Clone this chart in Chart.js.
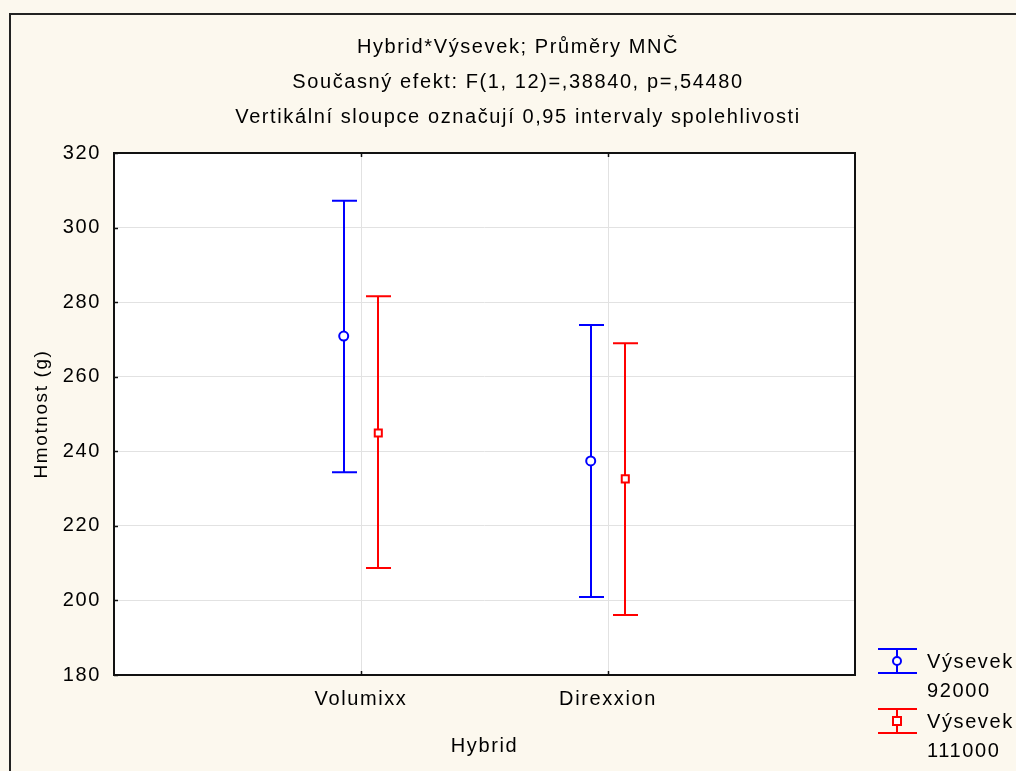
<!DOCTYPE html>
<html>
<head>
<meta charset="utf-8">
<script src="https://cdn.jsdelivr.net/npm/chart.js@4/dist/chart.umd.min.js"></script>
<style>
  html, body { margin: 0; padding: 0; background: #fcf8ee; overflow: hidden; }
  canvas { display: block; }
</style>
</head>
<body>
<canvas id="graph" width="1016" height="771"></canvas>
<script>
const categories = ["Volumixx", "Direxxion"];
const seriesNames = ["Výsevek 92000", "Výsevek 111000"];
const means92 = [270.9, 237.4];
const lower92 = [234.4, 200.9];
const upper92 = [307.2, 273.9];
const means111 = [244.9, 232.6];
const lower111 = [208.7, 196.1];
const upper111 = [281.6, 269.0];
const yTicks = [180, 200, 220, 240, 260, 280, 300, 320];
const titleLines = [
  "Hybrid*Výsevek; Průměry MNČ",
  "Současný efekt: F(1, 12)=,38840, p=,54480",
  "Vertikální sloupce označují 0,95 intervaly spolehlivosti"
];

const FONT = "'Liberation Sans', Arial, sans-serif";
const SPACING = "1.6px";
const shift = 0.07;

function pts(means, dx) {
  return means.map((m, i) => ({ x: i + 1 + dx, y: m }));
}

const errorBars = {
  id: "errorBars",
  beforeInit(chart) {
    chart.ctx.letterSpacing = SPACING;
  },
  beforeDraw(chart) {
    const { ctx, chartArea: a } = chart;
    ctx.letterSpacing = SPACING;
    ctx.save();
    ctx.fillStyle = "#fcf8ee";
    ctx.fillRect(0, 0, chart.width, chart.height);
    ctx.strokeStyle = "#222";
    ctx.lineWidth = 2;
    ctx.strokeRect(10, 14, chart.width + 20, chart.height + 20);
    ctx.fillStyle = "#ffffff";
    ctx.fillRect(a.left, a.top, a.right - a.left, a.bottom - a.top);
    ctx.restore();
  },
  beforeDatasetsDraw(chart) {
    const { ctx, scales: { x, y } } = chart;
    const sets = [[lower92, upper92, -shift, "#0000ff"], [lower111, upper111, shift, "#ff0000"]];
    ctx.save();
    ctx.lineWidth = 2;
    sets.forEach(([lo, hi, dx, col]) => {
      ctx.strokeStyle = col;
      lo.forEach((v, i) => {
        const px = Math.round(x.getPixelForValue(i + 1 + dx));
        const y1 = y.getPixelForValue(v);
        const y2 = y.getPixelForValue(hi[i]);
        ctx.beginPath();
        ctx.moveTo(px, y1); ctx.lineTo(px, y2);
        ctx.moveTo(px - 12, y1); ctx.lineTo(px + 13, y1);
        ctx.moveTo(px - 12, y2); ctx.lineTo(px + 13, y2);
        ctx.stroke();
      });
    });
    ctx.restore();
  },
  afterDraw(chart) {
    const { ctx, chartArea: a, scales: { x, y } } = chart;
    ctx.save();
    ctx.strokeStyle = "#111";
    ctx.lineWidth = 2;
    ctx.strokeRect(a.left, a.top, a.right - a.left, a.bottom - a.top);
    // small inward tick marks
    ctx.lineWidth = 1.5;
    ctx.beginPath();
    yTicks.forEach(v => {
      const py = Math.round(y.getPixelForValue(v)) + 0.5;
      ctx.moveTo(a.left, py); ctx.lineTo(a.left + 4, py);
    });
    [1, 2].forEach(v => {
      const px = Math.round(x.getPixelForValue(v)) + 0.5;
      ctx.moveTo(px, a.bottom); ctx.lineTo(px, a.bottom - 4);
      ctx.moveTo(px, a.top); ctx.lineTo(px, a.top + 4);
    });
    ctx.stroke();
    // legend
    const items = [
      { col: "#0000ff", cy: 661, shape: "circle", lines: ["Výsevek", "92000"] },
      { col: "#ff0000", cy: 721, shape: "rect", lines: ["Výsevek", "111000"] }
    ];
    ctx.font = "20px " + FONT;
    ctx.textBaseline = "middle";
    ctx.textAlign = "left";
    items.forEach(it => {
      ctx.strokeStyle = it.col;
      ctx.lineWidth = 2;
      const cx = 897;
      ctx.beginPath();
      ctx.moveTo(878, it.cy - 12); ctx.lineTo(917, it.cy - 12);
      ctx.moveTo(878, it.cy + 12); ctx.lineTo(917, it.cy + 12);
      ctx.moveTo(cx, it.cy - 12); ctx.lineTo(cx, it.cy + 12);
      ctx.stroke();
      ctx.fillStyle = "#fff";
      ctx.beginPath();
      if (it.shape === "circle") ctx.arc(cx, it.cy, 4, 0, Math.PI * 2);
      else ctx.rect(cx - 4, it.cy - 4, 8, 8);
      ctx.fill(); ctx.stroke();
      ctx.fillStyle = "#000";
      ctx.fillText(it.lines[0], 927, it.cy + 1);
      ctx.fillText(it.lines[1], 927, it.cy + 30);
    });
    ctx.restore();
  }
};

new Chart(document.getElementById("graph"), {
  type: "scatter",
  data: {
    datasets: [
      {
        label: seriesNames[0], data: pts(means92, -shift),
        pointStyle: "circle", pointRadius: 4.5, pointBorderWidth: 2,
        borderColor: "#0000ff", backgroundColor: "#ffffff"
      },
      {
        label: seriesNames[1], data: pts(means111, shift),
        pointStyle: "rect", pointRadius: 5, pointBorderWidth: 2,
        borderColor: "#ff0000", backgroundColor: "#ffffff"
      }
    ]
  },
  options: {
    responsive: false,
    animation: false,
    events: [],
    layout: { padding: { left: 20, top: 30, right: 0, bottom: 0 } },
    plugins: {
      legend: { display: false },
      tooltip: { enabled: false },
      title: {
        display: true,
        text: titleLines,
        color: "#000",
        font: { family: FONT, size: 20, weight: "normal", lineHeight: 1.75 },
        padding: { top: 0, bottom: 18 }
      }
    },
    scales: {
      x: {
        type: "linear", min: 0, max: 3,
        afterFit(s) { s.height = 96; },
        afterBuildTicks(s) { s.ticks = [0, 1, 2, 3].map(v => ({ value: v })); },
        ticks: {
          color: "#000", padding: 12,
          font: { family: FONT, size: 20 },
          callback: v => categories[v - 1] || ""
        },
        grid: {
          drawTicks: false,
          color: c => (c.tick && (c.tick.value === 1 || c.tick.value === 2)) ? "#e2e2e2" : "rgba(0,0,0,0)"
        },
        border: { display: false },
        title: {
          display: true, text: "Hybrid", color: "#000",
          font: { family: FONT, size: 20 }, padding: { top: 0, bottom: 13 }
        }
      },
      y: {
        min: 180, max: 320,
        afterFit(s) { s.width = 94; },
        afterBuildTicks(s) { s.ticks = yTicks.map(v => ({ value: v })); },
        ticks: { color: "#000", padding: 13, font: { family: FONT, size: 20 } },
        grid: { drawTicks: false, color: "#e2e2e2" },
        border: { display: false },
        title: {
          display: true, text: "Hmotnost (g)", color: "#000",
          font: { family: FONT, size: 19 }, padding: { top: 10, bottom: 0 }
        }
      },
      y2: {
        position: "right", min: 0, max: 1,
        afterFit(s) { s.width = 161; },
        ticks: { display: false },
        grid: { display: false },
        border: { display: false }
      }
    }
  },
  plugins: [errorBars]
});
</script>
</body>
</html>
